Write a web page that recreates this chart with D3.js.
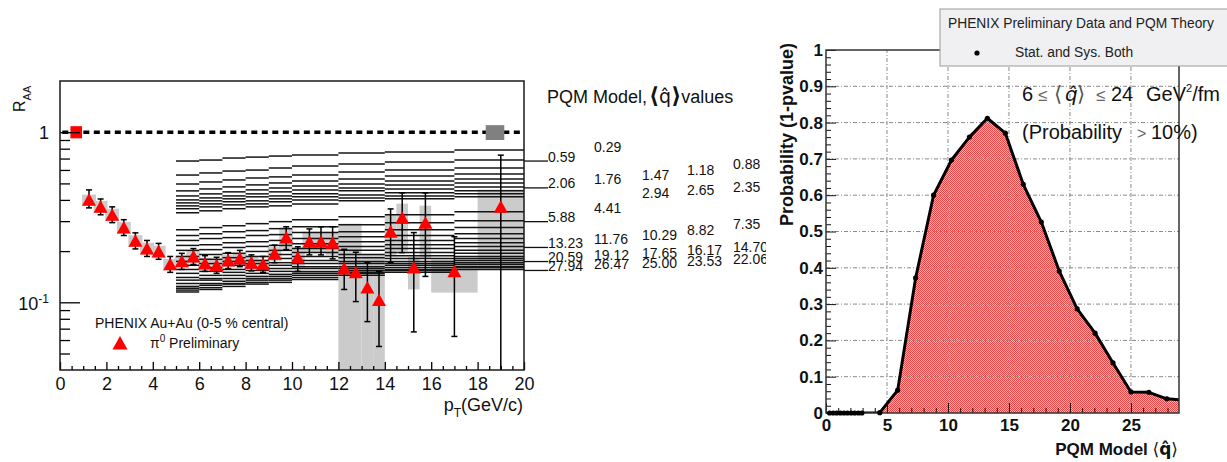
<!DOCTYPE html>
<html><head><meta charset="utf-8">
<script src="https://cdn.jsdelivr.net/npm/d3@7"></script>
<style>
body{margin:0;background:#fff;}
svg{display:block;font-family:"Liberation Sans",Arial,Helvetica,sans-serif;}
text{white-space:pre;}
</style></head>
<body><svg id="c" width="1227" height="462"></svg>
<script>
// ================= DATA =================
// Left panel: PHENIX pi0 R_AA (0-5% central)
const ptCenters = [1.25,1.75,2.25,2.75,3.25,3.75,4.25,4.75,5.25,5.75,6.25,6.75,7.25,7.75,8.25,8.75,9.25,9.75,10.25,10.75,11.25,11.75,12.25,12.75,13.25,13.75,14.25,14.75,15.25,15.75,17,19];
const raaValues = [0.40,0.364,0.327,0.275,0.23,0.207,0.199,0.167,0.174,0.186,0.169,0.165,0.176,0.181,0.171,0.167,0.193,0.24,0.183,0.227,0.227,0.224,0.158,0.15,0.122,0.103,0.26,0.314,0.16,0.293,0.152,0.364];
const statLow  = [0.359,0.327,0.294,0.247,0.206,0.186,0.179,0.150,0.156,0.167,0.152,0.148,0.158,0.162,0.153,0.150,0.171,0.204,0.152,0.19,0.19,0.18,0.119,0.101,0.077,0.055,0.171,0.196,0.067,0.142,0.063,0.03];
const statHigh = [0.458,0.405,0.364,0.306,0.256,0.231,0.222,0.186,0.194,0.207,0.188,0.184,0.196,0.202,0.19,0.186,0.217,0.278,0.212,0.27,0.278,0.278,0.205,0.197,0.171,0.152,0.354,0.44,0.257,0.44,0.243,0.733];
const sysLow   = [0.37,0.335,0.30,0.253,0.212,0.19,0.183,0.154,0.16,0.171,0.155,0.152,0.162,0.166,0.157,0.154,0.175,0.205,0.16,0.195,0.195,0.19,0.04,0.04,0.04,0.04,0.19,0.20,0.119,0.18,0.114,0.156];
const sysHigh  = [0.43,0.395,0.355,0.297,0.248,0.224,0.215,0.18,0.188,0.201,0.183,0.178,0.19,0.196,0.185,0.18,0.211,0.275,0.21,0.26,0.26,0.26,0.29,0.29,0.19,0.19,0.33,0.38,0.185,0.37,0.178,0.46];
const sysHalfWidth = [0.3,0.3,0.3,0.3,0.3,0.3,0.3,0.3,0.3,0.3,0.3,0.3,0.3,0.3,0.3,0.3,0.3,0.3,0.3,0.3,0.3,0.3,0.25,0.25,0.25,0.25,0.25,0.25,0.25,0.25,1,1];
// normalisation boxes around R_AA = 1  [xlo, xhi, ylo, yhi]
const normBoxRed  = [0.45,0.95,0.92,1.085];
const normBoxGray = [18.35,19.15,0.9,1.1];

// PQM model curves (one per <q-hat>), R_AA per pT bin
const modelBinEdges = [5,6,7,8,9,10,12,14,17,20];
const qhatLabels = ["0.29","0.59","0.88","1.18","1.47","1.76","2.06","2.35","2.65","2.94","4.41","5.88","7.35","8.82","10.29","11.76","13.23","14.70","16.17","17.65","19.12","20.59","22.06","23.53","25.00","26.47","27.94"];
const modelRaa = [
 [0.677,0.686,0.705,0.714,0.724,0.734,0.754,0.764,0.785],
 [0.560,0.576,0.591,0.599,0.616,0.633,0.650,0.668,0.686],
 [0.496,0.510,0.524,0.538,0.546,0.560,0.584,0.599,0.616],
 [0.452,0.464,0.477,0.490,0.503,0.517,0.531,0.553,0.568],
 [0.422,0.434,0.446,0.458,0.470,0.483,0.496,0.517,0.531],
 [0.400,0.411,0.422,0.434,0.446,0.458,0.470,0.490,0.503],
 [0.384,0.395,0.406,0.417,0.422,0.434,0.452,0.464,0.477],
 [0.369,0.379,0.390,0.395,0.406,0.417,0.428,0.440,0.452],
 [0.355,0.364,0.374,0.379,0.390,0.400,0.411,0.422,0.434],
 [0.336,0.345,0.355,0.364,0.369,0.379,0.395,0.406,0.417],
 [0.267,0.275,0.282,0.290,0.298,0.306,0.318,0.327,0.341],
 [0.247,0.253,0.260,0.264,0.271,0.278,0.286,0.294,0.302],
 [0.231,0.237,0.240,0.247,0.250,0.257,0.260,0.267,0.275],
 [0.216,0.218,0.224,0.227,0.231,0.237,0.243,0.247,0.253],
 [0.202,0.204,0.210,0.213,0.216,0.221,0.227,0.231,0.237],
 [0.186,0.191,0.194,0.199,0.202,0.207,0.213,0.218,0.224],
 [0.174,0.179,0.183,0.186,0.191,0.196,0.202,0.207,0.213],
 [0.165,0.169,0.174,0.176,0.181,0.186,0.191,0.196,0.202],
 [0.156,0.160,0.165,0.169,0.171,0.176,0.183,0.188,0.194],
 [0.148,0.152,0.156,0.160,0.165,0.169,0.174,0.181,0.186],
 [0.140,0.144,0.150,0.154,0.158,0.162,0.169,0.174,0.181],
 [0.135,0.138,0.144,0.148,0.152,0.158,0.162,0.169,0.176],
 [0.129,0.135,0.138,0.142,0.146,0.152,0.158,0.165,0.171],
 [0.124,0.129,0.133,0.138,0.142,0.148,0.154,0.160,0.167],
 [0.121,0.126,0.129,0.135,0.138,0.144,0.150,0.156,0.162],
 [0.118,0.122,0.128,0.131,0.135,0.140,0.148,0.154,0.160],
 [0.115,0.119,0.124,0.128,0.131,0.136,0.144,0.150,0.156]
];
const xTicksLeft = [0,2,4,6,8,10,12,14,16,18,20];

// Right panel: probability scan
const qhatScan = [0.29,0.59,0.88,1.18,1.47,1.76,2.06,2.35,2.65,2.94,4.41,5.88,7.35,8.82,10.29,11.76,13.23,14.70,16.17,17.65,19.12,20.59,22.06,23.53,25.00,26.47,27.94,29.41];
const probability = [0,0,0,0,0,0,0,0,0,0,0.001,0.063,0.372,0.600,0.697,0.760,0.812,0.771,0.630,0.526,0.391,0.287,0.220,0.138,0.058,0.057,0.039,0.035];
const xTicksRight = [0,5,10,15,20,25];
const yTicksRight = [0,0.1,0.2,0.3,0.4,0.5,0.6,0.7,0.8,0.9,1];
const yTickLabelsRight = ["0","0.1","0.2","0.3","0.4","0.5","0.6","0.7","0.8","0.9","1"];

// ================= LAYOUT =================
const svg = d3.select("#c");
const FONT = '"Liberation Sans",Arial,Helvetica,sans-serif';
const defs = svg.append("defs");
defs.append("clipPath").attr("id","leftClip").append("rect").attr("x",0).attr("y",0).attr("width",766).attr("height",462);
defs.append("clipPath").attr("id","plotL").append("rect").attr("x",60).attr("y",81).attr("width",464).attr("height",289);
defs.append("clipPath").attr("id","plotR").append("rect").attr("x",826).attr("y",50).attr("width",353).attr("height",363);
const pat = defs.append("pattern").attr("id","pinkFill").attr("width",2).attr("height",2).attr("patternUnits","userSpaceOnUse");
pat.append("rect").attr("width",2).attr("height",2).attr("fill","#ffb4b4");
pat.append("rect").attr("x",0).attr("y",0).attr("width",1).attr("height",1).attr("fill","#ee4646");
pat.append("rect").attr("x",1).attr("y",1).attr("width",1).attr("height",1).attr("fill","#ee4646");

// ---------- LEFT PANEL ----------
const L = svg.append("g").attr("clip-path","url(#leftClip)");
const xL = d3.scaleLinear().domain([0,20]).range([60,524]);
const yL = d3.scaleLog().domain([0.04,2]).range([370,81]);
const plotL = L.append("g").attr("clip-path","url(#plotL)");

const pts = ptCenters.map((p,i)=>({pt:p,v:raaValues[i],lo:statLow[i],hi:statHigh[i],slo:sysLow[i],shi:sysHigh[i],hw:sysHalfWidth[i]}));

// systematic boxes
plotL.selectAll("rect.sys").data(pts).join("rect").attr("class","sys")
  .attr("x",d=>xL(d.pt-d.hw)).attr("width",d=>xL(d.pt+d.hw)-xL(d.pt-d.hw))
  .attr("y",d=>yL(d.shi)).attr("height",d=>yL(d.slo)-yL(d.shi))
  .attr("fill","#cbcbcb");

// model curves
const segs = [];
modelRaa.forEach((row,li)=>row.forEach((v,bi)=>segs.push({x0:modelBinEdges[bi],x1:modelBinEdges[bi+1],v})));
plotL.selectAll("line.model").data(segs).join("line").attr("class","model")
  .attr("x1",d=>xL(d.x0)).attr("x2",d=>xL(d.x1)).attr("y1",d=>yL(d.v)).attr("y2",d=>yL(d.v))
  .attr("stroke","#141414").attr("stroke-width",1.5);

// unity line + normalisation boxes
plotL.append("line").attr("x1",xL(0.1)).attr("x2",xL(20)).attr("y1",yL(1)).attr("y2",yL(1))
  .attr("stroke","#000").attr("stroke-width",3.5).attr("stroke-dasharray","6,4.5");
plotL.append("rect").attr("x",xL(normBoxRed[0])).attr("width",xL(normBoxRed[1])-xL(normBoxRed[0]))
  .attr("y",yL(normBoxRed[3])).attr("height",yL(normBoxRed[2])-yL(normBoxRed[3])).attr("fill","#ff0000");
plotL.append("rect").attr("x",xL(normBoxGray[0])).attr("width",xL(normBoxGray[1])-xL(normBoxGray[0]))
  .attr("y",yL(normBoxGray[3])).attr("height",yL(normBoxGray[2])-yL(normBoxGray[3])).attr("fill","#808080");

// stat error bars
const eb = plotL.selectAll("g.eb").data(pts).join("g").attr("class","eb").attr("stroke","#000").attr("stroke-width",1.5);
eb.append("line").attr("x1",d=>xL(d.pt)).attr("x2",d=>xL(d.pt)).attr("y1",d=>yL(d.lo)).attr("y2",d=>yL(d.hi));
eb.append("line").attr("x1",d=>xL(d.pt)-3).attr("x2",d=>xL(d.pt)+3).attr("y1",d=>yL(d.hi)).attr("y2",d=>yL(d.hi));
eb.filter(d=>yL(d.lo)<369).append("line").attr("x1",d=>xL(d.pt)-3).attr("x2",d=>xL(d.pt)+3).attr("y1",d=>yL(d.lo)).attr("y2",d=>yL(d.lo));

// triangles
const tri = (cx,cy,s)=>`M${cx-s},${cy+s*0.85}L${cx+s},${cy+s*0.85}L${cx},${cy-s*0.95}Z`;
plotL.selectAll("path.pt").data(pts).join("path").attr("class","pt")
  .attr("d",d=>tri(xL(d.pt),yL(d.v),7)).attr("fill","#ff0000");

// axes
const axL = L.append("g").attr("font-family",FONT);
const gx = axL.append("g").attr("transform","translate(0,370)")
  .call(d3.axisBottom(xL).tickValues(xTicksLeft).tickSize(-8).tickPadding(7).tickFormat(d3.format("d")));
const gxm = axL.append("g").attr("transform","translate(0,370)")
  .call(d3.axisBottom(xL).tickValues(d3.range(0.5,20,0.5).filter(v=>v%2!==0)).tickSize(-4).tickFormat(""));
const gy = axL.append("g").attr("transform","translate(60,0)")
  .call(d3.axisLeft(yL).tickValues([0.1,1]).tickSize(-20).tickPadding(11).tickFormat(""));
const gym = axL.append("g").attr("transform","translate(60,0)")
  .call(d3.axisLeft(yL).tickValues([0.05,0.06,0.07,0.08,0.09,0.2,0.3,0.4,0.5,0.6,0.7,0.8,0.9]).tickSize(-10).tickFormat(""));
[gx,gxm,gy,gym].forEach(g=>{g.select(".domain").remove();g.selectAll("line").attr("stroke","#000").attr("stroke-width",1.3);});
gx.selectAll("text").attr("font-size",18).attr("fill","#111");
gy.selectAll(".tick text").each(function(d){
  const t=d3.select(this).attr("font-size",18).attr("fill","#111");
  if(d===1){t.text("1").attr("dy","0.35em");}
  else{t.attr("dy","0.4em"); t.append("tspan").text("10"); t.append("tspan").text("-1").attr("font-size",12).attr("dy","-0.55em");}
});
// frame
L.append("rect").attr("x",60).attr("y",81).attr("width",464).attr("height",289)
  .attr("fill","none").attr("stroke","#1a1a1a").attr("stroke-width",1.5);

// axis titles
const raaT = L.append("text").attr("transform","translate(25,112) rotate(-90)").attr("font-size",16).attr("fill","#111");
raaT.append("tspan").text("R");
raaT.append("tspan").text("AA").attr("font-size",11).attr("dy",6);
const ptT = L.append("text").attr("x",523).attr("y",411).attr("text-anchor","end").attr("font-size",18).attr("fill","#111");
ptT.append("tspan").text("p");
ptT.append("tspan").text("T").attr("font-size",12).attr("dy",6);
ptT.append("tspan").text("(GeV/c)").attr("dy",-6);

// legend
L.append("text").attr("x",95).attr("y",328).attr("font-size",14).attr("fill","#111").text("PHENIX Au+Au (0-5 % central)");
L.append("path").attr("d",tri(120,343,7.5)).attr("fill","#ff0000");
const piT = L.append("text").attr("x",150).attr("y",348).attr("font-size",14).attr("fill","#111");
piT.append("tspan").text("π");
piT.append("tspan").text("0").attr("font-size",10).attr("dy",-6);
piT.append("tspan").text(" Preliminary").attr("dy",6);

// model header
const hdr = L.append("text").attr("x",547).attr("y",103).attr("font-size",18).attr("fill","#111");
hdr.append("tspan").text("PQM Model,");
hdr.append("tspan").text("⟨").attr("font-weight","bold").attr("font-family","DejaVu Sans").attr("font-size",22).attr("dx",2);
hdr.append("tspan").text("q̂").attr("font-family","DejaVu Sans").attr("font-size",19);
hdr.append("tspan").text("⟩").attr("font-weight","bold").attr("font-family","DejaVu Sans").attr("font-size",22);
hdr.append("tspan").text("values");

// model labels + leaders
const labelColX = [548,594,642,687,733];
const colPattern = [1,0,4,3,2];
qhatLabels.forEach((lab,i)=>{
  const col = colPattern[i%5];
  const yEnd = yL(modelRaa[i][modelRaa[i].length-1]);
  L.append("text").attr("x",labelColX[col]).attr("y",yEnd+1.5).attr("font-size",14).attr("fill","#111").text(lab);
  if(col===0){
    L.append("line").attr("x1",524).attr("x2",548).attr("y1",yEnd+1).attr("y2",yEnd+1).attr("stroke","#111").attr("stroke-width",1.3);
  }
});

// ---------- RIGHT PANEL ----------
const R = svg.append("g");
const xR = d3.scaleLinear().domain([0,28.94]).range([826,1179]);
const yR = d3.scaleLinear().domain([0,1]).range([413,50]);
const scan = qhatScan.map((q,i)=>({q,p:probability[i]}));
const plotR = R.append("g").attr("clip-path","url(#plotR)");
plotR.append("path").datum(scan)
  .attr("d",d3.area().x(d=>xR(d.q)).y0(yR(0)).y1(d=>yR(d.p)))
  .attr("fill","url(#pinkFill)");
// grid
const gridStyle = s=>s.attr("stroke","#8a8a8a").attr("stroke-width",1).attr("stroke-dasharray","4,2,1,2");
xTicksRight.filter(v=>v>0).forEach(v=>gridStyle(plotR.append("line").attr("x1",xR(v)).attr("x2",xR(v)).attr("y1",yR(0)).attr("y2",yR(1))));
yTicksRight.filter(v=>v>0&&v<1).forEach(v=>gridStyle(plotR.append("line").attr("x1",xR(0)).attr("x2",xR(28.94)).attr("y1",yR(v)).attr("y2",yR(v))));

// axes
const axR = R.append("g").attr("font-family",FONT);
const rx = axR.append("g").attr("transform","translate(0,413)")
  .call(d3.axisBottom(xR).tickValues(xTicksRight).tickSize(-10).tickPadding(6).tickFormat(d3.format("d")));
const rxm = axR.append("g").attr("transform","translate(0,413)")
  .call(d3.axisBottom(xR).tickValues(d3.range(1,29,1).filter(v=>v%5!==0)).tickSize(-5).tickFormat(""));
const ry = axR.append("g").attr("transform","translate(826,0)")
  .call(d3.axisLeft(yR).tickValues(yTicksRight).tickSize(-10).tickPadding(3).tickFormat((d,i)=>yTickLabelsRight[i]));
const rym = axR.append("g").attr("transform","translate(826,0)")
  .call(d3.axisLeft(yR).tickValues(d3.range(0.02,1,0.02).filter(v=>Math.abs(v*10-Math.round(v*10))>0.01)).tickSize(-5).tickFormat(""));
[rx,rxm,ry,rym].forEach(g=>{g.select(".domain").remove();g.selectAll("line").attr("stroke","#111").attr("stroke-width",1);});
rx.selectAll("text").attr("font-size",17).attr("font-weight","bold").attr("fill","#111");
ry.selectAll("text").attr("font-size",17).attr("font-weight","bold").attr("fill","#111");
// frame
R.append("rect").attr("x",826).attr("y",50).attr("width",353).attr("height",363)
  .attr("fill","none").attr("stroke","#333").attr("stroke-width",1.5);

// curve + points (points not clipped, so the zero points sit on the axis)
plotR.append("path").datum(scan)
  .attr("d",d3.line().x(d=>xR(d.q)).y(d=>yR(d.p)))
  .attr("fill","none").attr("stroke","#000").attr("stroke-width",3).attr("stroke-linejoin","round");
R.selectAll("circle.sp").data(scan.filter(d=>d.q<=28.94)).join("circle").attr("class","sp")
  .attr("cx",d=>xR(d.q)).attr("cy",d=>yR(d.p)).attr("r",2.6).attr("fill","#000");

// titles
R.append("text").attr("transform","translate(793,43) rotate(-90)").attr("text-anchor","end")
  .attr("font-size",18).attr("font-weight","bold").attr("fill","#111").text("Probability (1-pvalue)");
const xt = R.append("text").attr("x",1178).attr("y",455).attr("text-anchor","end").attr("font-size",17).attr("font-weight","bold").attr("fill","#111");
xt.append("tspan").text("PQM Model ");
xt.append("tspan").text("⟨").attr("font-weight","normal").attr("font-family","DejaVu Sans");
xt.append("tspan").text("q̂").attr("font-family","DejaVu Sans");
xt.append("tspan").text("⟩").attr("font-weight","normal").attr("font-family","DejaVu Sans");

// annotation texts
const a1 = R.append("text").attr("y",101).attr("font-size",20).attr("fill","#111");
a1.append("tspan").attr("x",1022).text("6");
a1.append("tspan").attr("x",1038).text("≤").attr("fill","#666").attr("font-size",17);
a1.append("tspan").attr("x",1054).text("⟨").attr("fill","#555").attr("font-family","DejaVu Sans").attr("font-size",21);
a1.append("tspan").attr("x",1065).text("q̂").attr("font-style","italic").attr("font-family","DejaVu Sans");
a1.append("tspan").attr("x",1077).text("⟩").attr("fill","#555").attr("font-family","DejaVu Sans").attr("font-size",21);
a1.append("tspan").attr("x",1096).text("≤").attr("fill","#666").attr("font-size",17);
a1.append("tspan").attr("x",1111).text("24");
a1.append("tspan").attr("x",1146).text("GeV");
a1.append("tspan").text("2").attr("font-size",11).attr("dy",-9);
a1.append("tspan").text("/fm").attr("dy",9);
const a2 = R.append("text").attr("y",139).attr("font-size",20).attr("fill","#111");
a2.append("tspan").attr("x",1022).text("(Probability");
a2.append("tspan").attr("x",1137).text(">").attr("fill","#666").attr("font-size",16);
a2.append("tspan").attr("x",1151).text("10%)");

// legend box
R.append("rect").attr("x",940).attr("y",9).attr("width",300).attr("height",57)
  .attr("fill","#f0f0f3").attr("stroke","#9a9a9a").attr("stroke-width",1);
R.append("text").attr("x",948).attr("y",28).attr("font-size",13.8).attr("fill","#222").text("PHENIX Preliminary Data and PQM Theory");
R.append("circle").attr("cx",977).attr("cy",53).attr("r",2.6).attr("fill","#000");
R.append("text").attr("x",1015).attr("y",57).attr("font-size",13.8).attr("fill","#222").text("Stat. and Sys. Both");
</script>
</body></html>
